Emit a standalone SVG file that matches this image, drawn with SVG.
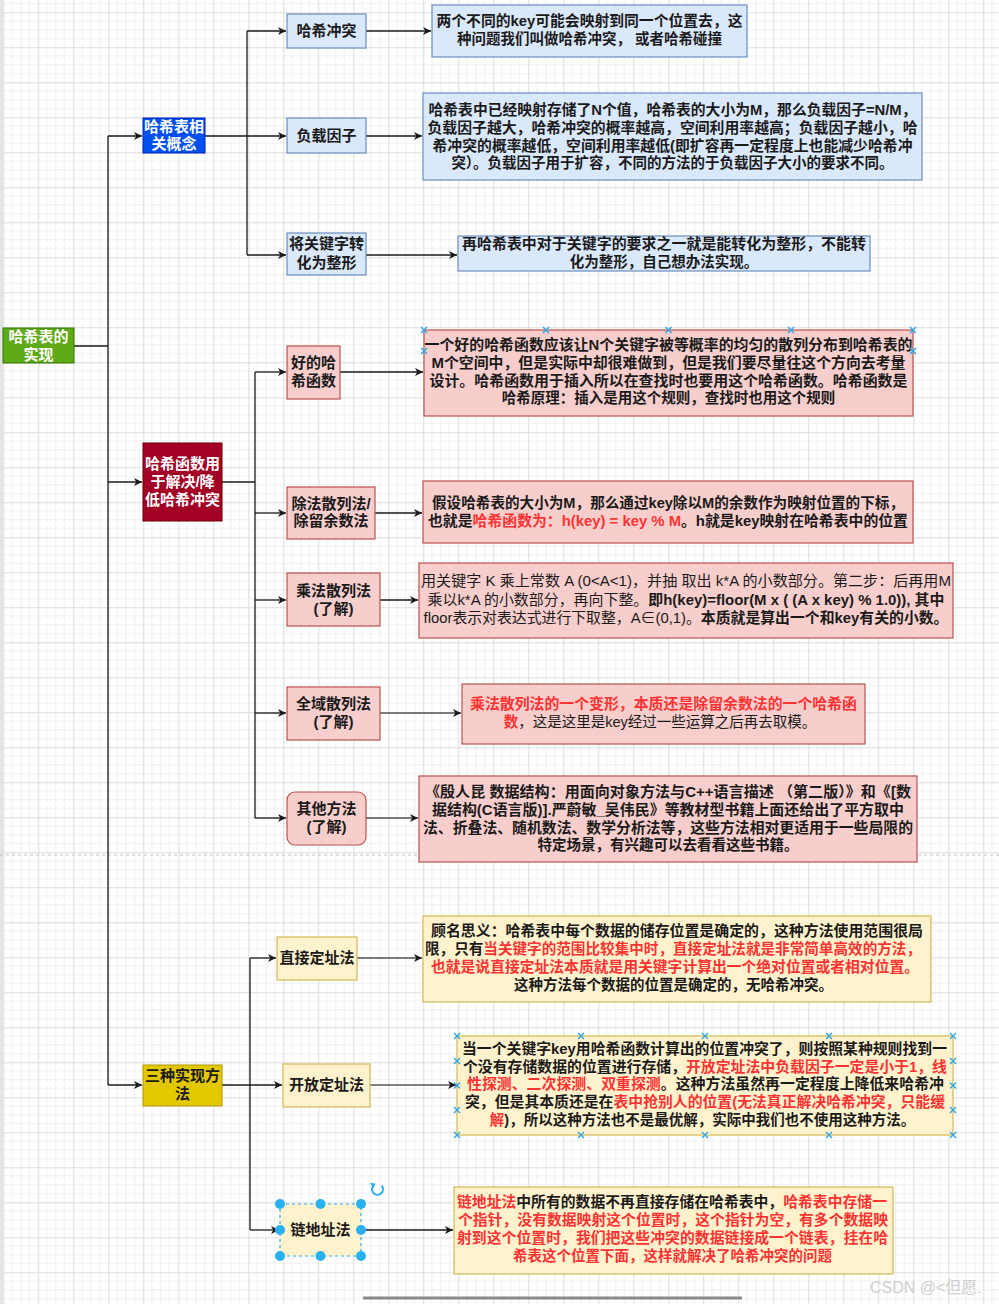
<svg xmlns="http://www.w3.org/2000/svg" width="999" height="1304" viewBox="0 0 999 1304">
<style>
.t{font-family:"Liberation Sans","Noto Sans CJK SC",sans-serif;font-size:14.5px;font-weight:bold;fill:#1a1a1a;text-anchor:middle}
.lb{font-size:15px}
.w{fill:#ffffff}
.r{fill:#ff3333}
.n{font-weight:normal}
.c{fill:none;stroke:#1a1a1a;stroke-width:1.3}
.cg{fill:none;stroke:#555;stroke-width:1.6}
.blue{fill:#dae8fc;stroke:#6c8ebf;stroke-width:1.2}
.pink{fill:#f8cecc;stroke:#b85450;stroke-width:1.2}
.yel{fill:#fff2cc;stroke:#d6b656;stroke-width:1.2}
.hx{stroke:#29a8e8;stroke-width:1.4;fill:none}
.hd{fill:#29b0f0}
</style>
<defs>
<pattern id="grid" x="3.3" y="12.3" width="35" height="35" patternUnits="userSpaceOnUse">
<path d="M8.75 0V35M17.5 0V35M26.25 0V35M0 8.75H35M0 17.5H35M0 26.25H35" stroke="#efefef" stroke-width="1"/>
<path d="M0.5 0V35M0 0.5H35" stroke="#dcdcdc" stroke-width="1"/>
</pattern>
<marker id="a" markerWidth="9" markerHeight="8" refX="8" refY="4" orient="auto" markerUnits="userSpaceOnUse">
<path d="M0,0 L8,4 L0,8 L2.2,4 z" fill="#1a1a1a"/>
</marker>
<path id="xm" d="M-3,-3 L3,3 M3,-3 L-3,3"/>
</defs>
<rect width="999" height="1304" fill="#ffffff"/>
<rect width="999" height="1304" fill="url(#grid)"/>
<rect x="0" y="0" width="3" height="1304" fill="#e4e4e4"/>
<path d="M0 855H999" stroke="#c4c4c4" stroke-width="1" stroke-dasharray="3,3"/>
<path d="M363 1298H742" stroke="#8a8a8a" stroke-width="3"/>

<g id="connectors">
<path class="c" d="M74 346H108"/>
<path class="c" d="M108 136V1085"/>
<path class="c" d="M108 136H142" marker-end="url(#a)"/>
<path class="c" d="M108 482H142" marker-end="url(#a)"/>
<path class="c" d="M108 1085H142" marker-end="url(#a)"/>
<path class="c" d="M205 136H286" marker-end="url(#a)"/>
<path class="c" d="M247 31V255"/>
<path class="c" d="M247 31H286" marker-end="url(#a)"/>
<path class="c" d="M247 255H286" marker-end="url(#a)"/>
<path class="c" d="M366 31H431" marker-end="url(#a)"/>
<path class="c" d="M366 136H422" marker-end="url(#a)"/>
<path class="c" d="M366 255H457" marker-end="url(#a)"/>
<path class="c" d="M222 482H255" stroke-width="2"/>
<path class="c" d="M255 372V818" stroke="#444"/>
<path class="c" d="M255 372H286" marker-end="url(#a)"/>
<path class="c" d="M255 513H286" marker-end="url(#a)"/>
<path class="c" d="M255 600H286" marker-end="url(#a)"/>
<path class="c" d="M255 713H286" marker-end="url(#a)"/>
<path class="c" d="M255 818H286" marker-end="url(#a)"/>
<path class="c" d="M340 372H423" marker-end="url(#a)"/>
<path class="c" d="M375 513H422" marker-end="url(#a)"/>
<path class="c" d="M380 600H418" marker-end="url(#a)"/>
<path class="cg" d="M380 713H461" marker-end="url(#a)"/>
<path class="cg" d="M366 818H418" marker-end="url(#a)"/>
<path class="c" d="M222 1085H282" stroke-width="2" marker-end="url(#a)"/>
<path class="c" d="M250 958V1230" stroke="#444"/>
<path class="c" d="M250 958H276" marker-end="url(#a)"/>
<path class="c" d="M250 1230H279" marker-end="url(#a)"/>
<path class="cg" d="M357 958H422" marker-end="url(#a)"/>
<path class="cg" d="M370 1085H456" marker-end="url(#a)"/>
<path class="c" d="M361 1230H453" marker-end="url(#a)"/>
</g>

<g id="root">
<rect x="3" y="328" width="71" height="35" fill="#60a917" stroke="#2d7600"/>
<text class="t lb w" x="38.5" y="342">哈希表的</text>
<text class="t lb w" x="38.5" y="360">实现</text>
</g>

<g id="concepts">
<rect x="143" y="118" width="62" height="35" fill="#0050ef" stroke="#001dbc"/>
<text class="t lb w" x="174" y="132">哈希表相</text>
<text class="t lb w" x="174" y="149">关概念</text>
</g>

<g id="hashfunc">
<rect x="143" y="443" width="79" height="78" fill="#a20025" stroke="#6f0000"/>
<text class="t lb w" x="182.5" y="469">哈希函数用</text>
<text class="t lb w" x="182.5" y="487">于解决/降</text>
<text class="t lb w" x="182.5" y="505">低哈希冲突</text>
</g>

<g id="three">
<rect x="143" y="1065" width="79" height="41" fill="#e3c800" stroke="#b09500"/>
<text class="t lb" x="182.5" y="1081">三种实现方</text>
<text class="t lb" x="182.5" y="1099">法</text>
</g>

<g id="collision">
<rect class="blue" x="287" y="14" width="79" height="34"/>
<text class="t lb" x="326.5" y="36">哈希冲突</text>
</g>
<g id="collision-desc">
<rect class="blue" x="432" y="5" width="315" height="52"/>
<text class="t" x="589.5" y="26" textLength="306" lengthAdjust="spacingAndGlyphs">两个不同的key可能会映射到同一个位置去，这</text>
<text class="t" x="589.5" y="44">种问题我们叫做哈希冲突， 或者哈希碰撞</text>
</g>

<g id="loadfactor">
<rect class="blue" x="287" y="118" width="79" height="35"/>
<text class="t lb" x="326.5" y="141">负载因子</text>
</g>
<g id="loadfactor-desc">
<rect class="blue" x="423" y="93" width="499" height="87"/>
<text class="t" x="672.5" y="115" textLength="488" lengthAdjust="spacingAndGlyphs">哈希表中已经映射存储了N个值，哈希表的大小为M，那么负载因子=N/M，</text>
<text class="t" x="672.5" y="133" textLength="490" lengthAdjust="spacingAndGlyphs">负载因子越大，哈希冲突的概率越高，空间利用率越高；负载因子越小，哈</text>
<text class="t" x="672.5" y="151" textLength="480" lengthAdjust="spacingAndGlyphs">希冲突的概率越低，空间利用率越低(即扩容再一定程度上也能减少哈希冲</text>
<text class="t" x="672.5" y="168">突）。负载因子用于扩容，不同的方法的于负载因子大小的要求不同。</text>
</g>

<g id="tointeger">
<rect class="blue" x="287" y="233" width="79" height="42"/>
<text class="t lb" x="326.5" y="249">将关键字转</text>
<text class="t lb" x="326.5" y="268">化为整形</text>
</g>
<g id="tointeger-desc">
<rect class="blue" x="458" y="236" width="412" height="35"/>
<text class="t" x="664" y="249" textLength="404" lengthAdjust="spacingAndGlyphs">再哈希表中对于关键字的要求之一就是能转化为整形，不能转</text>
<text class="t" x="664" y="267">化为整形，自己想办法实现。</text>
</g>

<g id="goodhash">
<rect class="pink" x="287" y="346" width="53" height="53"/>
<text class="t lb" x="313.5" y="368">好的哈</text>
<text class="t lb" x="313.5" y="386">希函数</text>
</g>
<g id="goodhash-desc">
<rect class="pink" x="424" y="330" width="489" height="86"/>
<text class="t" x="668.5" y="350" textLength="488" lengthAdjust="spacingAndGlyphs">一个好的哈希函数应该让N个关键字被等概率的均匀的散列分布到哈希表的</text>
<text class="t" x="668.5" y="368" textLength="474" lengthAdjust="spacingAndGlyphs">M个空间中，但是实际中却很难做到，但是我们要尽量往这个方向去考量</text>
<text class="t" x="668.5" y="386" textLength="478" lengthAdjust="spacingAndGlyphs">设计。哈希函数用于插入所以在查找时也要用这个哈希函数。哈希函数是</text>
<text class="t" x="668.5" y="403">哈希原理：插入是用这个规则，查找时也用这个规则</text>
<g class="hx">
<use href="#xm" x="424" y="330"/><use href="#xm" x="546" y="330"/><use href="#xm" x="668.5" y="330"/><use href="#xm" x="791" y="330"/><use href="#xm" x="913" y="330"/>
<use href="#xm" x="424" y="351"/><use href="#xm" x="913" y="351"/>
</g>
</g>

<g id="division">
<rect class="pink" x="287" y="487" width="88" height="52"/>
<text class="t lb" x="331" y="509">除法散列法/</text>
<text class="t lb" x="331" y="526">除留余数法</text>
</g>
<g id="division-desc">
<rect class="pink" x="423" y="481" width="490" height="62"/>
<text class="t" x="668" y="508" textLength="472" lengthAdjust="spacingAndGlyphs">假设哈希表的大小为M，那么通过key除以M的余数作为映射位置的下标，</text>
<text class="t" x="668" y="526" textLength="480" lengthAdjust="spacingAndGlyphs">也就是<tspan class="r">哈希函数为：h(key) = key % M</tspan>。h就是key映射在哈希表中的位置</text>
</g>

<g id="multiply">
<rect class="pink" x="287" y="573" width="93" height="53"/>
<text class="t lb" x="333.5" y="596">乘法散列法</text>
<text class="t lb" x="333.5" y="614">(了解)</text>
</g>
<g id="multiply-desc">
<rect class="pink" x="419" y="563" width="534" height="75"/>
<text class="t n" x="686" y="586" textLength="530" lengthAdjust="spacingAndGlyphs">用关键字 K 乘上常数 A (0&lt;A&lt;1)，并抽 取出 k*A 的小数部分。第二步：后再用M</text>
<text class="t" x="686" y="605" textLength="517" lengthAdjust="spacingAndGlyphs"><tspan class="n">乘以k*A 的小数部分，再向下整。</tspan>即h(key)=floor(M x ( (A x key) % 1.0)), 其中</text>
<text class="t" x="686" y="623" textLength="525" lengthAdjust="spacingAndGlyphs"><tspan class="n">floor表示对表达式进行下取整，A∈(0,1)。</tspan>本质就是算出一个和key有关的小数。</text>
</g>

<g id="universal">
<rect class="pink" x="287" y="687" width="93" height="53"/>
<text class="t lb" x="333.5" y="709">全域散列法</text>
<text class="t lb" x="333.5" y="727">(了解)</text>
</g>
<g id="universal-desc">
<rect class="pink" x="462" y="684" width="403" height="60"/>
<text class="t r" x="663.5" y="709" textLength="387" lengthAdjust="spacingAndGlyphs">乘法散列法的一个变形，本质还是除留余数法的一个哈希函</text>
<text class="t" x="660" y="727"><tspan class="r">数</tspan><tspan class="n">，这是这里是key经过一些运算之后再去取模。</tspan></text>
</g>

<g id="others">
<rect class="pink" x="287" y="792" width="79" height="53" rx="8" ry="8"/>
<text class="t lb" x="326.5" y="814">其他方法</text>
<text class="t lb" x="326.5" y="832">(了解)</text>
</g>
<g id="others-desc">
<rect class="pink" x="419" y="776" width="498" height="86"/>
<text class="t" x="668" y="797" textLength="486" lengthAdjust="spacingAndGlyphs">《殷人昆 数据结构：用面向对象方法与C++语言描述 （第二版）》和《[数</text>
<text class="t" x="668" y="815" textLength="472" lengthAdjust="spacingAndGlyphs">据结构(C语言版)].严蔚敏_吴伟民》等教材型书籍上面还给出了平方取中</text>
<text class="t" x="668" y="833" textLength="490" lengthAdjust="spacingAndGlyphs">法、折叠法、随机数法、数学分析法等，这些方法相对更适用于一些局限的</text>
<text class="t" x="668" y="850">特定场景，有兴趣可以去看看这些书籍。</text>
</g>

<g id="direct">
<rect class="yel" x="277" y="937" width="80" height="43"/>
<text class="t lb" x="317" y="963">直接定址法</text>
</g>
<g id="direct-desc">
<rect class="yel" x="423" y="916" width="508" height="86"/>
<text class="t" x="677" y="936" textLength="492" lengthAdjust="spacingAndGlyphs">顾名思义：哈希表中每个数据的储存位置是确定的，这种方法使用范围很局</text>
<text class="t" x="673" y="954" textLength="496" lengthAdjust="spacingAndGlyphs">限，只有<tspan class="r">当关键字的范围比较集中时，直接定址法就是非常简单高效的方法，</tspan></text>
<text class="t r" x="675" y="972" textLength="488" lengthAdjust="spacingAndGlyphs">也就是说直接定址法本质就是用关键字计算出一个绝对位置或者相对位置。</text>
<text class="t" x="673.5" y="990">这种方法每个数据的位置是确定的，无哈希冲突。</text>
</g>

<g id="open">
<rect class="yel" x="283" y="1064" width="87" height="43"/>
<text class="t lb" x="326.5" y="1090">开放定址法</text>
</g>
<g id="open-desc">
<rect class="yel" x="457" y="1036" width="496" height="99"/>
<text class="t" x="704.5" y="1054" textLength="485" lengthAdjust="spacingAndGlyphs">当一个关键字key用哈希函数计算出的位置冲突了，则按照某种规则找到一</text>
<text class="t" x="705" y="1072" textLength="484" lengthAdjust="spacingAndGlyphs">个没有存储数据的位置进行存储，<tspan class="r">开放定址法中负载因子一定是小于1，线</tspan></text>
<text class="t" x="705.5" y="1089" textLength="477" lengthAdjust="spacingAndGlyphs"><tspan class="r">性探测、二次探测、双重探测</tspan>。这种方法虽然再一定程度上降低来哈希冲</text>
<text class="t" x="705" y="1107" textLength="480" lengthAdjust="spacingAndGlyphs">突，但是其本质还是在<tspan class="r">表中抢别人的位置(无法真正解决哈希冲突，只能缓</tspan></text>
<text class="t" x="702.5" y="1125"><tspan class="r">解</tspan>)，所以这种方法也不是最优解，实际中我们也不使用这种方法。</text>
<g class="hx">
<use href="#xm" x="457" y="1036"/><use href="#xm" x="581" y="1036"/><use href="#xm" x="705" y="1036"/><use href="#xm" x="829" y="1036"/><use href="#xm" x="953" y="1036"/>
<use href="#xm" x="457" y="1061"/><use href="#xm" x="953" y="1061"/>
<use href="#xm" x="457" y="1085.5"/><use href="#xm" x="953" y="1085.5"/>
<use href="#xm" x="457" y="1110"/><use href="#xm" x="953" y="1110"/>
<use href="#xm" x="457" y="1135"/><use href="#xm" x="581" y="1135"/><use href="#xm" x="705" y="1135"/><use href="#xm" x="829" y="1135"/><use href="#xm" x="953" y="1135"/>
</g>
</g>

<g id="chain">
<rect x="280" y="1204" width="81" height="52" fill="#fff2cc" stroke="#29b0f0" stroke-width="1.2" stroke-dasharray="3,3"/>
<text class="t lb" x="320.5" y="1235">链地址法</text>
<g class="hd">
<circle cx="280" cy="1204" r="5"/><circle cx="320.5" cy="1204" r="5"/><circle cx="361" cy="1204" r="5"/>
<circle cx="280" cy="1230" r="5"/><circle cx="361" cy="1230" r="5"/>
<circle cx="280" cy="1256" r="5"/><circle cx="320.5" cy="1256" r="5"/><circle cx="361" cy="1256" r="5"/>
</g>
<path d="M381.5 1185.5 A5.5 5.5 0 1 1 373 1186" fill="none" stroke="#29b0f0" stroke-width="2"/>
<path d="M370 1183 L375.5 1183.5 L373.5 1188.5 z" fill="#29b0f0"/>
</g>
<g id="chain-desc">
<rect class="yel" x="454" y="1187" width="439" height="87"/>
<text class="t" x="672" y="1207" textLength="430" lengthAdjust="spacingAndGlyphs"><tspan class="r">链地址法</tspan>中所有的数据不再直接存储在哈希表中，<tspan class="r">哈希表中存储一</tspan></text>
<text class="t r" x="673" y="1225" textLength="430" lengthAdjust="spacingAndGlyphs">个指针，没有数据映射这个位置时，这个指针为空，有多个数据映</text>
<text class="t r" x="672.5" y="1243" textLength="431" lengthAdjust="spacingAndGlyphs">射到这个位置时，我们把这些冲突的数据链接成一个链表，挂在哈</text>
<text class="t r" x="672.5" y="1261">希表这个位置下面，这样就解决了哈希冲突的问题</text>
</g>

<text x="870" y="1293" style="font-family:'Liberation Sans','Noto Sans CJK SC',sans-serif;font-size:16px;fill:#cfcfcf">CSDN @&lt;但愿.</text>
</svg>
